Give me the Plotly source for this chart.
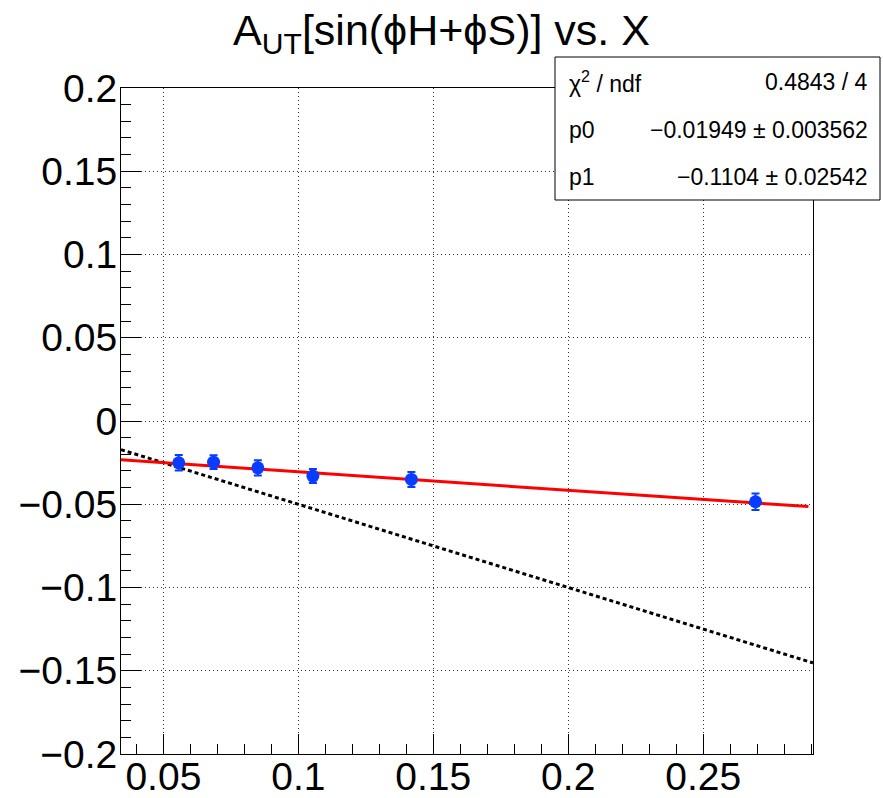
import plotly.graph_objects as go

# Data points
x_vals = [0.0557, 0.0686, 0.0850, 0.1054, 0.1419, 0.2694]
y_vals = [-0.0251, -0.0247, -0.0281, -0.0331, -0.0351, -0.0485]
y_errs = [0.0047, 0.0042, 0.0046, 0.0042, 0.0045, 0.0050]

# Fit line (p0 + p1*x) endpoints
fit_x = [0.0343, 0.2890]
fit_y = [-0.0233, -0.0514]

# Black dotted reference line endpoints
ref_x = [0.0343, 0.2907]
ref_y = [-0.0172, -0.1453]

# Axis settings
x_range = [0.0343, 0.2907]
y_range = [-0.2, 0.2]
x_ticks = [0.05, 0.1, 0.15, 0.2, 0.25]
x_ticklabels = ["0.05", "0.1", "0.15", "0.2", "0.25"]
y_ticks = [-0.2, -0.15, -0.1, -0.05, 0, 0.05, 0.1, 0.15, 0.2]
y_ticklabels = ["\u22120.2", "\u22120.15", "\u22120.1", "\u22120.05", "0", "0.05", "0.1", "0.15", "0.2"]

stat_labels = ["\u03c7<sup>2</sup> / ndf", "p0", "p1"]
stat_values = ["0.4843 / 4", "\u22120.01949 \u00b1 0.003562", "\u22120.1104 \u00b1 0.02542"]

FONT = "Liberation Sans, Arial, Helvetica, sans-serif"

fig = go.Figure()

fig.add_trace(go.Scatter(
    x=ref_x, y=ref_y, mode="lines",
    line=dict(color="black", width=3, dash="4px,3px"),
    showlegend=False, hoverinfo="skip"))

fig.add_trace(go.Scatter(
    x=fit_x, y=fit_y, mode="lines",
    line=dict(color="#ff0000", width=3),
    showlegend=False, hoverinfo="skip"))

fig.add_trace(go.Scatter(
    x=x_vals, y=y_vals, mode="markers",
    marker=dict(color="#0a3cff", size=13, symbol="circle"),
    error_y=dict(type="data", array=y_errs, color="#0a3cff", thickness=2, width=4),
    showlegend=False))

L, R, T, B = 121, 70, 88, 44
W, H = 883, 798
pw = W - L - R
ph = H - T - B

def px2paper_x(px):
    return (px - L) / pw

def px2paper_y(py):
    return (H - B - py) / ph

axis_common = dict(
    showline=True, linecolor="black", linewidth=1, mirror=True,
    ticks="inside", ticklen=20, tickwidth=1, tickcolor="black",
    showgrid=True, gridcolor="#333333", gridwidth=1, griddash="1px,3px",
    zeroline=False, automargin=False,
    tickfont=dict(family=FONT, size=39, color="black"),
)

fig.update_layout(
    width=W, height=H,
    margin=dict(l=L, r=R, t=T, b=B),
    paper_bgcolor="white", plot_bgcolor="white",
    title=dict(
        text="A<sub>UT</sub>[sin(\u03d5H+\u03d5S)] vs. X",
        x=0.5, xanchor="center", y=0.962, yanchor="middle",
        font=dict(family=FONT, size=43, color="black")),
    xaxis=dict(range=x_range, tickvals=x_ticks, ticktext=x_ticklabels,
               ticklabelstandoff=-12,
               minor=dict(dtick=0.01, tick0=0, ticks="inside", ticklen=10,
                          tickcolor="black", showgrid=False),
               **axis_common),
    yaxis=dict(range=y_range, tickvals=y_ticks, ticktext=y_ticklabels,
               ticklabelstandoff=-5,
               minor=dict(dtick=0.01, tick0=0, ticks="inside", ticklen=10,
                          tickcolor="black", showgrid=False),
               **axis_common),
)

# Stat box
bx0, bx1 = px2paper_x(555), px2paper_x(880)
by0, by1 = px2paper_y(200), px2paper_y(57)
fig.add_shape(type="rect", xref="paper", yref="paper",
              x0=bx0, x1=bx1, y0=by0, y1=by1,
              line=dict(color="black", width=1), fillcolor="white", layer="above")

row_y = [82, 130, 177]
for lab, val, ry in zip(stat_labels, stat_values, row_y):
    fig.add_annotation(xref="paper", yref="paper", x=px2paper_x(567), y=px2paper_y(ry),
                       text=lab, showarrow=False, xanchor="left", yanchor="middle",
                       font=dict(family=FONT, size=23, color="black"))
    fig.add_annotation(xref="paper", yref="paper", x=px2paper_x(870), y=px2paper_y(ry),
                       text=val, showarrow=False, xanchor="right", yanchor="middle",
                       font=dict(family=FONT, size=23, color="black"))

fig.write_html("out.html")
